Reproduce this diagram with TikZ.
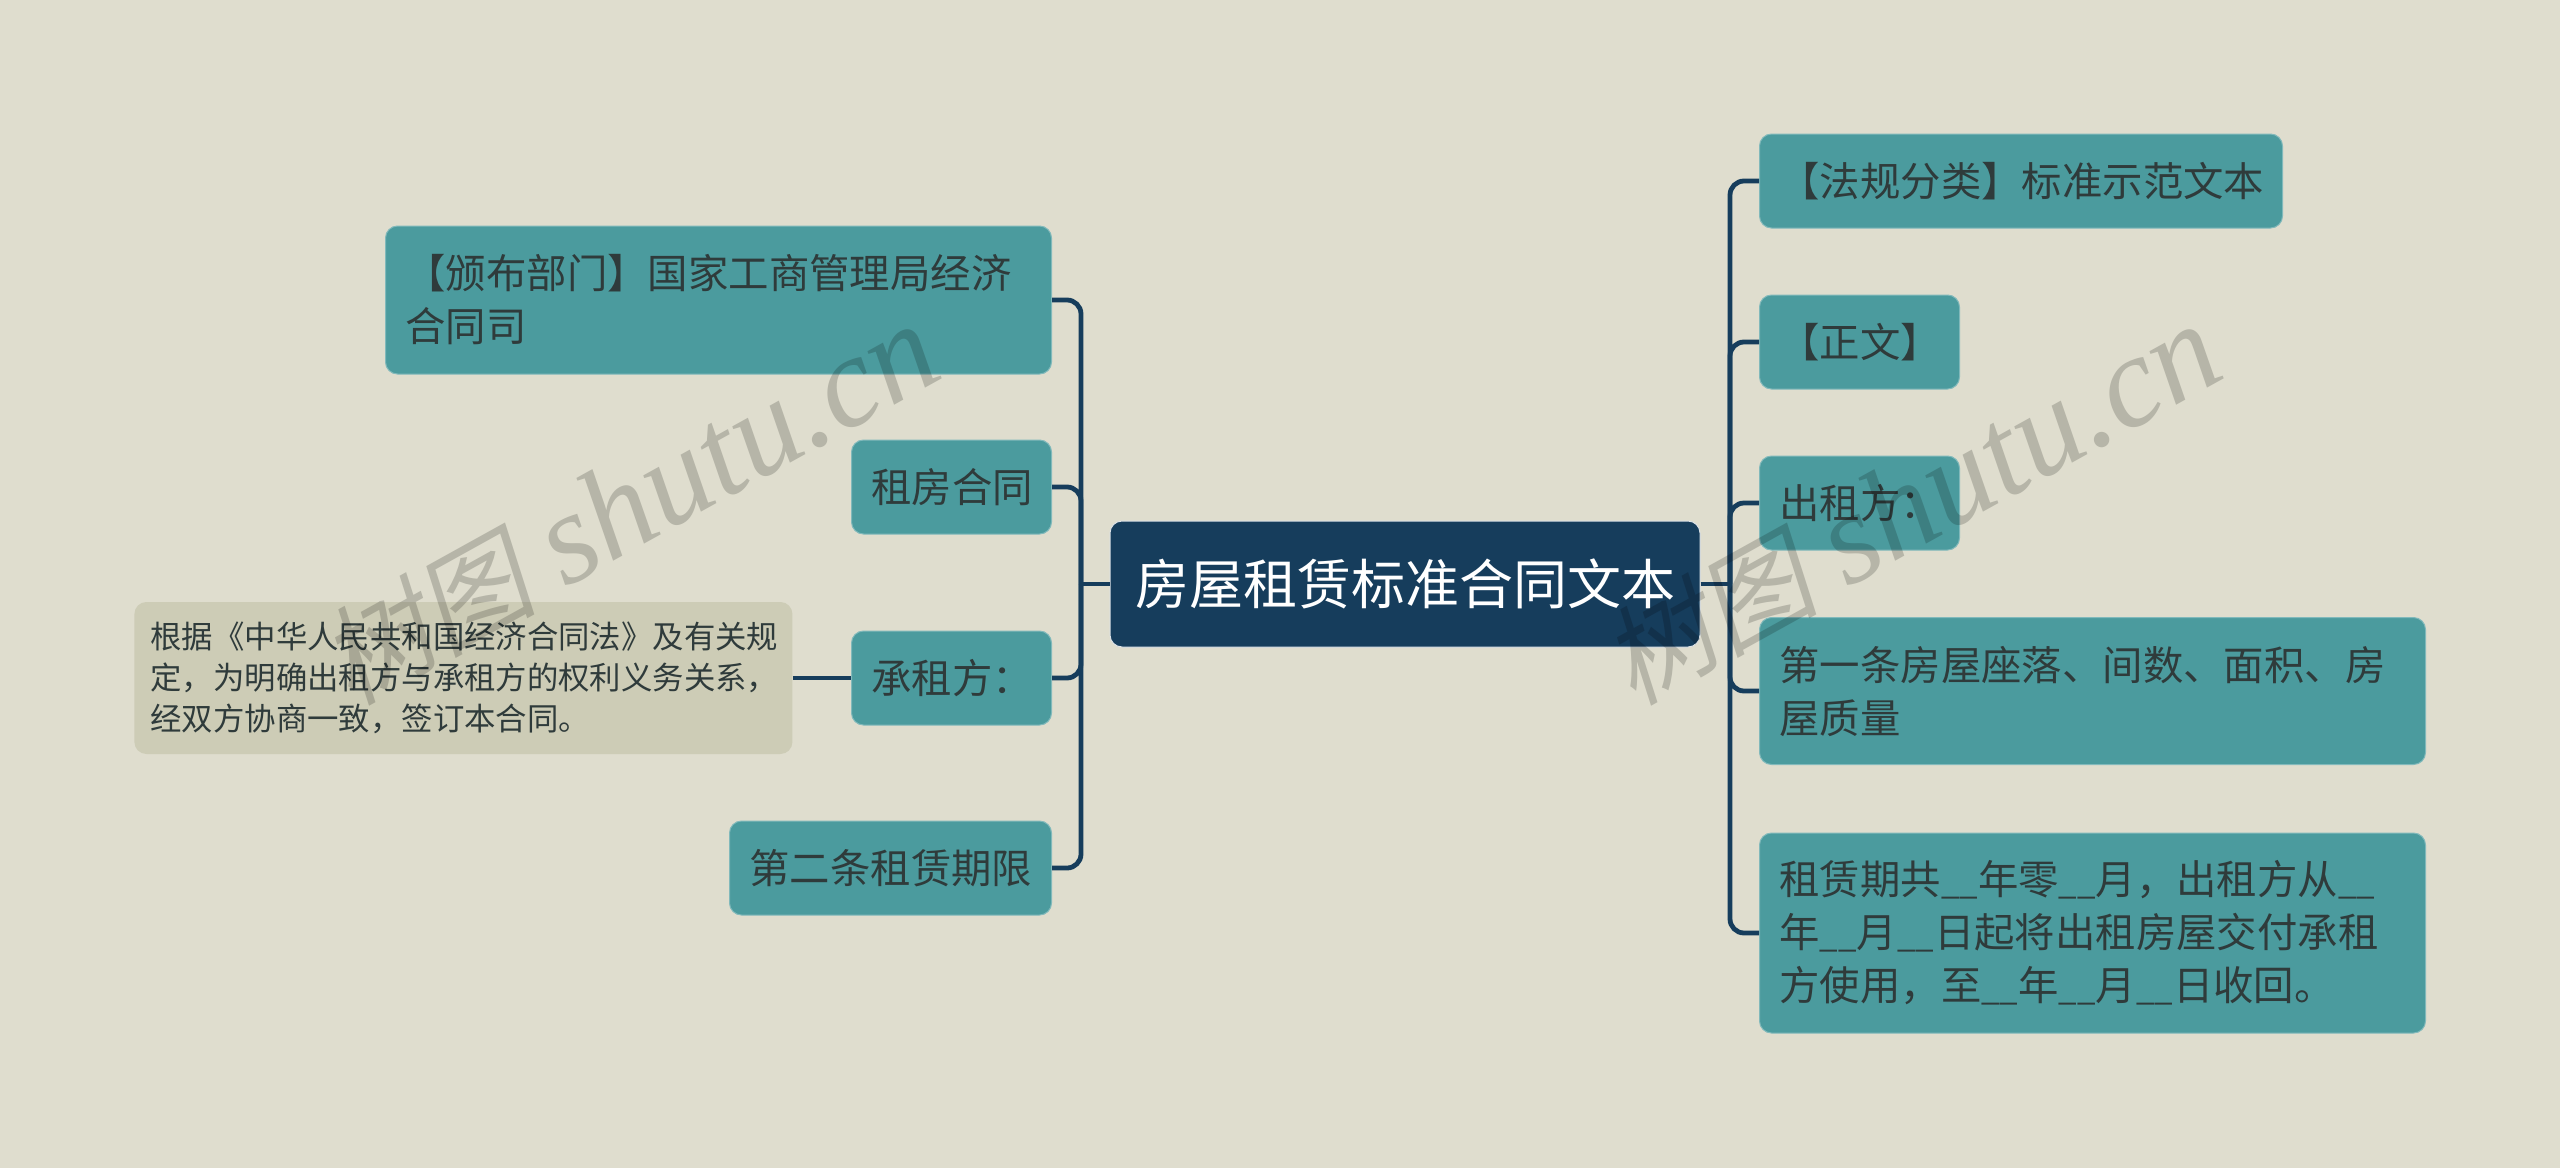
\documentclass[tikz,border=0pt]{standalone}
\usepackage{fontspec}
\setmainfont{Noto Sans CJK SC}
\newfontfamily\markcjk{Noto Sans CJK SC}[FakeSlant=0.2]
\newfontfamily\marklatin{Liberation Serif}
\definecolor{paper}{HTML}{DFDDCE}
\definecolor{teal}{HTML}{4B9B9E}
\definecolor{navy}{HTML}{163D5C}
\definecolor{sand}{HTML}{CDCCB6}
\definecolor{ink}{HTML}{2F3B3B}
\newcommand\blank{{\fontsize{16.5}{17}\selectfont\_\_}}
\tikzset{
  central/.style={fill=navy,draw=white!85!navy,line width=.5pt,rounded corners=6pt,text=white,
    font=\fontsize{27}{36}\selectfont,inner xsep=0pt,inner ysep=0pt,align=center},
  topic/.style={fill=teal,draw=teal!70!white,line width=.5pt,rounded corners=6pt,text=ink,
    font=\fontsize{20.2}{26.5}\selectfont,inner xsep=10pt,inner ysep=0pt,align=left,anchor=west},
  note/.style={fill=sand,rounded corners=6pt,text=ink,
    font=\fontsize{15.7}{20.5}\selectfont,inner xsep=8pt,inner ysep=0pt,align=left,anchor=west},
  link/.style={draw=navy,line width=2.4pt,rounded corners=7pt},
  watermark/.style={text=black!18,font=\fontsize{65}{65}\selectfont,anchor=base east,rotate=29,inner sep=0pt}
}
\begin{document}
\begin{tikzpicture}[x=.5pt,y=-.5pt]
\useasboundingbox[fill=paper] (0,0) rectangle (2560,1168);
\node[central,minimum width=295pt,minimum height=63pt] (C) at (1405,584) {房屋租赁标准合同文本};
%% left side
\node[topic,text width=313pt,minimum height=74pt] (L1) at (385,300) {【颁布部门】国家工商管理局经济\\合同司};
\node[topic,text width=80pt,minimum height=47pt] (L2) at (851,487) {租房合同};
\node[topic,text width=80pt,minimum height=47pt] (L3) at (851,678) {承租方：};
\node[topic,text width=141pt,minimum height=47pt] (L4) at (729,868) {第二条租赁期限};
\node[note,text width=313pt,minimum height=76pt] (S) at (134,678) {根据《中华人民共和国经济合同法》及有关规\\定，为明确出租方与承租方的权利义务关系，\\经双方协商一致，签订本合同。};
%% right side
\node[topic,text width=241.5pt,minimum height=47pt] (R1) at (1759,181) {【法规分类】标准示范文本};
\node[topic,text width=80pt,minimum height=47pt] (R2) at (1759,342) {【正文】};
\node[topic,text width=80pt,minimum height=47pt] (R3) at (1759,503) {出租方：};
\node[topic,text width=313pt,minimum height=73.5pt] (R4) at (1759,691) {第一条房屋座落、间数、面积、房\\屋质量};
\node[topic,text width=313pt,minimum height=100pt] (R5) at (1759,933) {租赁期共\blank 年零\blank 月，出租方从\blank\\年\blank 月\blank 日起将出租房屋交付承租\\方使用，至\blank 年\blank 月\blank 日收回。};
\coordinate (LB) at (1081,584);
\coordinate (RB) at (1730,584);
\draw[link] (C.west) -- (LB);
\draw[link] (C.east) -- (RB);
\foreach \n in {L1,L2,L3,L4} \draw[link] (\n.east) -| (LB);
\foreach \n in {R1,R2,R3,R4,R5} \draw[link] (\n.west) -| (RB);
\draw[link] (S.east) -- (L3.west);
%% site mark, printed twice
\begin{scope}[blend mode=multiply]
\foreach \x/\n in {948/WA,2230/WB}
  \node[watermark] (\n) at (\x,376) {{\markcjk\fontsize{54}{54}\selectfont 树图} {\marklatin\itshape shutu.cn}};
\end{scope}
\end{tikzpicture}
\end{document}
